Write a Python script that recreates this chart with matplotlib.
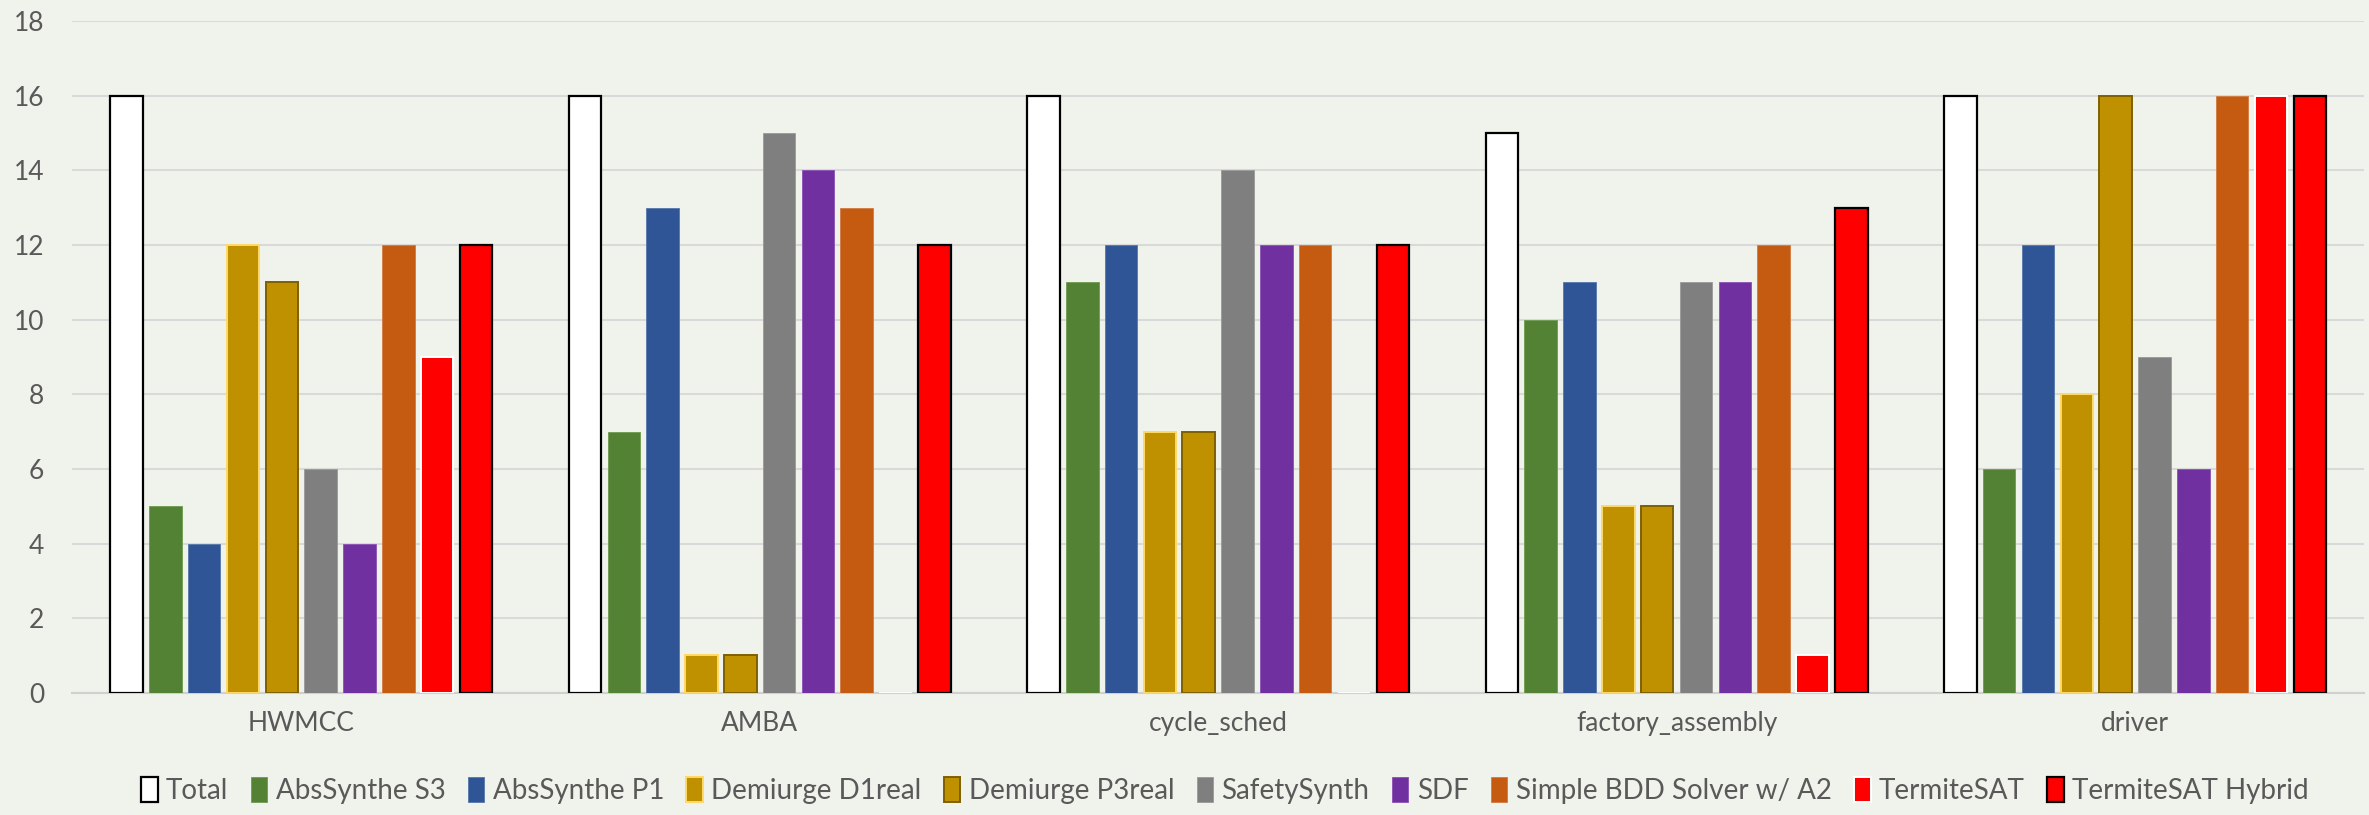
import numpy as np
import matplotlib.pyplot as plt

categories = ['HWMCC', 'AMBA', 'cycle_sched', 'factory_assembly', 'driver']
series_names = ['Total', 'AbsSynthe S3', 'AbsSynthe P1', 'Demiurge D1real', 'Demiurge P3real',
                'SafetySynth', 'SDF', 'Simple BDD Solver w/ A2', 'TermiteSAT', 'TermiteSAT Hybrid']

total = [16, 16, 16, 15, 16]
abssynthe_s3 = [5, 7, 11, 10, 6]
abssynthe_p1 = [4, 13, 12, 11, 12]
demiurge_d1real = [12, 1, 7, 5, 8]
demiurge_p3real = [11, 1, 7, 5, 16]
safetysynth = [6, 15, 14, 11, 9]
sdf = [4, 14, 12, 11, 6]
simple_bdd = [12, 13, 12, 12, 16]
termitesat = [9, 0, 0, 1, 16]
termitesat_hybrid = [12, 12, 12, 13, 16]

series = [total, abssynthe_s3, abssynthe_p1, demiurge_d1real, demiurge_p3real,
          safetysynth, sdf, simple_bdd, termitesat, termitesat_hybrid]

# (face, edge, linewidth)
styles = [
    ('#FFFFFF', '#000000', 1.6),
    ('#548235', '#6E9A4E', 0.6),
    ('#2F5597', '#5577AA', 0.6),
    ('#BF9000', '#FFD966', 1.4),
    ('#BF9000', '#7F6000', 1.4),
    ('#7F7F7F', '#9A9A9A', 0.6),
    ('#7030A0', '#8A50B5', 0.6),
    ('#C55A11', '#D27A40', 0.6),
    ('#FF0000', '#FFFFFF', 1.4),
    ('#FF0000', '#000000', 1.6),
]

bg = '#F0F3EC'
text_color = '#595959'
plt.rcParams['font.family'] = ['Lato', 'DejaVu Sans']

fig = plt.figure(figsize=(23.69, 8.15), dpi=100, facecolor=bg)
ax = fig.add_axes([0.0304, 0.150, 0.9676, 0.824])
ax.set_facecolor(bg)

x = np.arange(len(categories))
slot = 0.0847
width = 0.071
n = len(series)
for i, (vals, name, (fc, ec, lw)) in enumerate(zip(series, series_names, styles)):
    offs = (i - (n - 1) / 2) * slot
    ax.bar(x + offs, vals, width, color=fc, edgecolor=ec, linewidth=lw, label=name, zorder=3)

ax.set_xlim(-0.5, len(categories) - 0.5)
ax.set_ylim(0, 18)
ax.set_yticks(range(0, 19, 2))
ax.set_xticks(x)
ax.set_xticklabels(categories)
ax.tick_params(axis='both', length=0, labelsize=19, colors=text_color)
ax.tick_params(axis='x', pad=13)
ax.tick_params(axis='y', pad=20)
ax.grid(axis='y', color='#D9D9D9', linewidth=1.5, zorder=0)
for s in ['top', 'right', 'left']:
    ax.spines[s].set_visible(False)
ax.spines['bottom'].set_color('#D0D0D0')
ax.spines['bottom'].set_linewidth(1.5)

leg = fig.legend(loc='center', bbox_to_anchor=(0.517, 0.030), ncol=10, frameon=False,
                 fontsize=20, handlelength=0.6, handleheight=1.0, handletextpad=0.3,
                 columnspacing=0.8, labelcolor=text_color)

fig.savefig('out.png', dpi=100, facecolor=bg)
